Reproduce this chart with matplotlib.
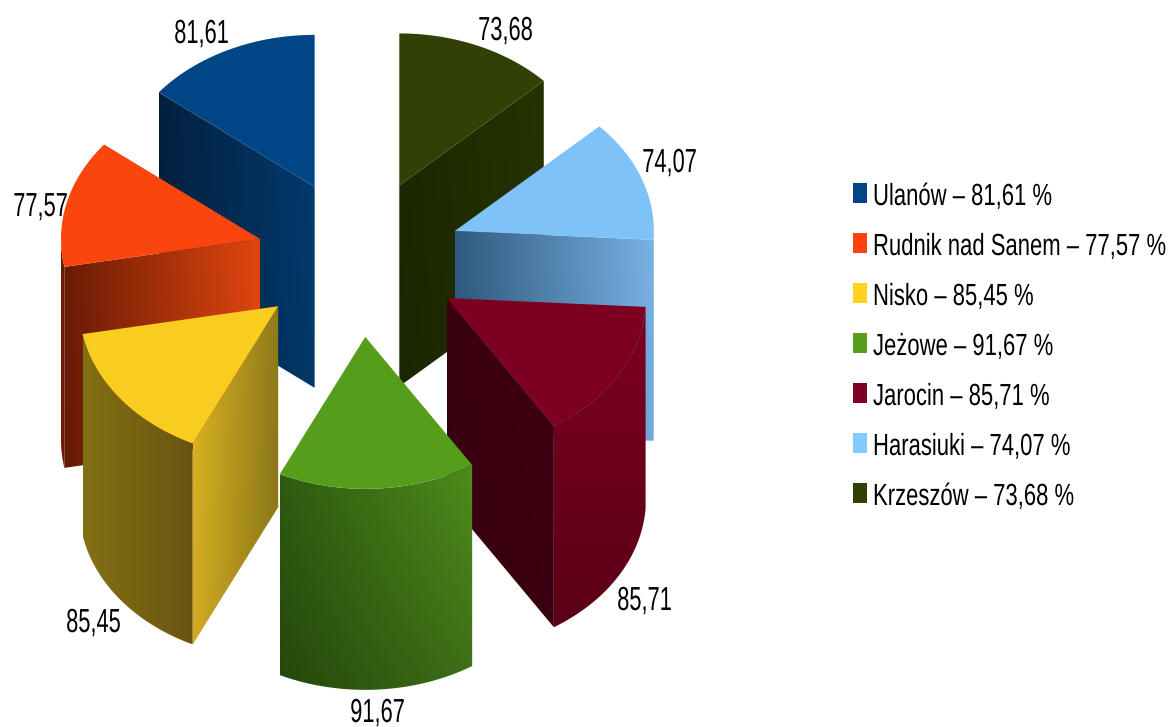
import matplotlib
matplotlib.use('Agg')
import matplotlib.pyplot as plt
import numpy as np
from matplotlib.patches import Polygon, Rectangle
from matplotlib.colors import to_rgb
from matplotlib.text import Text
from matplotlib.textpath import TextPath
from matplotlib.transforms import Affine2D, Bbox

# data
towns = ['Ulanów', 'Rudnik nad Sanem', 'Nisko', 'Jeżowe', 'Jarocin', 'Harasiuki', 'Krzeszów']
values = [81.61, 77.57, 85.45, 91.67, 85.71, 74.07, 73.68]

# colours
legend_colors = ['#004586', '#ff420e', '#ffd320', '#579d1c', '#7e0021', '#83caff', '#314004']
top_colors = ['#004586', '#fb450f', '#f9cd20', '#579d1c', '#7e0021', '#7fc2f8', '#314004']
cut_left = ['#02213f', '#6b1c05', '#dcb422', '#000000', '#3a0010', '#305a80', '#1c2800']
cut_right = ['#033a6e', '#e0460f', '#8f7a1a', '#000000', '#3f0012', '#78b2e4', '#263402']
wall_left = ['#000000', '#6b1c05', '#847014', '#2f5c10', '#7e0020', '#5a90c0', '#000000']
wall_right = ['#000000', '#6b1c05', '#685410', '#4e8c1c', '#7e0020', '#5a90c0', '#000000']
wall_fade = [1.0, 1.0, 1.0, 0.78, 0.72, 1.0, 1.0]

# layout in pixels
W, H = 1171, 727
cx, cy = 359, 258
rx, ry = 199, 152
ex, ey = 102, 79
depth = 201
label_pos = [(201, 43), (40, 216), (93, 632), (377, 722), (644, 610), (669, 172), (505, 40)]
legend_x, legend_y, legend_step = 853, 183, 50

plt.rcParams['font.family'] = ['Liberation Sans', 'DejaVu Sans']

fig = plt.figure(figsize=(W / 100, H / 100), dpi=100)
ax = fig.add_axes([0, 0, 1, 1])
ax.set_axis_off()


class NarrowText(Text):
    # the reference font is squeezed sideways and no condensed font is installed
    squeeze = 0.66

    def _glyphs(self):
        scale = fig.dpi / 72
        path = TextPath((0, 0), self.get_text(), size=self.get_fontsize(), prop=self.get_fontproperties())
        width = path.get_extents().x1 * self.squeeze * scale
        x, y = self.get_transform().transform(self.get_position())
        if self.get_ha() == 'center':
            x -= width / 2
        return path, Affine2D().scale(self.squeeze * scale, scale).translate(x, y)

    def get_window_extent(self, renderer=None, dpi=None):
        path, trans = self._glyphs()
        return Bbox(trans.transform(path.get_extents().get_points()))

    def draw(self, renderer):
        path, trans = self._glyphs()
        gc = renderer.new_gc()
        gc.set_linewidth(0)
        gc.set_antialiased(True)
        renderer.draw_path(gc, path, trans, to_rgb('black'))
        gc.restore()


def shaded(points, c0, c1, fade, z):
    xs, ys = points[:, 0], points[:, 1]
    ramp = np.linspace(np.array(to_rgb(c0)), np.array(to_rgb(c1)), 64)[None, :, :]
    down = np.linspace(1, fade, 32)[:, None, None]
    im = ax.imshow(ramp * down, extent=[xs.min(), xs.max(), ys.max(), ys.min()],
                   aspect='auto', interpolation='bilinear', zorder=z)
    im.set_clip_path(Polygon(points, closed=True, transform=ax.transData))


def label(x, y, s, size, squeeze, ha, z):
    t = NarrowText(x, y, s, fontsize=size, ha=ha, va='baseline', zorder=z, transform=ax.transData)
    t.squeeze = squeeze
    ax.add_artist(t)


ax.set_xlim(0, W)
ax.set_ylim(H, 0)

# labels go under the slices, the 77,57 is cut off by its slice
for v, (lx, ly) in zip(values, label_pos):
    label(lx, ly, f'{v:.2f}'.replace('.', ','), 24, 0.655, 'center', 1)

# angles run counter clockwise from 12 o'clock
angles = 90 + np.concatenate([[0], np.cumsum(values)]) / sum(values) * 360
mids = (angles[:-1] + angles[1:]) / 2
order = np.argsort(-np.sin(np.radians(mids)))

z = 2
for i in order:
    a, b = angles[i], angles[i + 1]
    m = np.radians(mids[i])
    tx = cx + ex * np.cos(m)
    ty = cy - ey * np.sin(m)
    t = np.radians(np.linspace(a, b, 120))
    arc = np.column_stack([tx + rx * np.cos(t), ty - ry * np.sin(t)])
    tip = np.array([tx, ty])
    drop = np.array([0, depth])

    # the one cut face we can see
    if np.sin(np.radians(a - 90)) < -0.01:
        edge = arc[0]
    elif np.sin(np.radians(b + 90)) < -0.01:
        edge = arc[-1]
    else:
        edge = None
    if edge is not None:
        face = np.array([tip, edge, edge + drop, tip + drop])
        shaded(face, cut_left[i], cut_right[i], 0.95, z)
        z += 1

    # curved outer wall, front half only
    front = arc[np.sin(t) <= 0]
    if len(front) > 1:
        wall = np.vstack([front, front[::-1] + drop])
        shaded(wall, wall_left[i], wall_right[i], wall_fade[i], z)
        z += 1

    ax.add_patch(Polygon(np.vstack([tip, arc]), closed=True, facecolor=top_colors[i],
                         edgecolor='none', zorder=z))
    z += 1

# legend
for i, (town, v) in enumerate(zip(towns, values)):
    y = legend_y + i * legend_step
    ax.add_patch(Rectangle((legend_x, y), 14, 20, facecolor=legend_colors[i], edgecolor='none', zorder=z))
    label(legend_x + 20, y + 22, f'{town} – {v:.2f} %'.replace('.', ','), 22, 0.722, 'left', z)

ax.set_xlim(0, W)
ax.set_ylim(H, 0)
fig.savefig('out.png', dpi=100, facecolor='white')
